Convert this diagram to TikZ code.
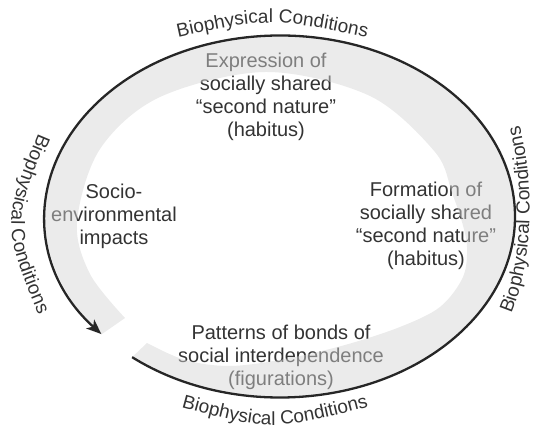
\documentclass[tikz,border=0pt]{standalone}
\usepackage{fontspec}
\setmainfont{Liberation Sans}
\usetikzlibrary{
  arrows.meta, % for the Stealth arrow tip
  decorations.text, % to bend the outer labels along the ring
}
\definecolor{inktext}{HTML}{333333}
\definecolor{inkline}{HTML}{262626}
\tikzset{
  phrase/.style={ % style for the four stages inside the ring
    align=center, % centred lines
    text=inktext,
    font=\fontsize{20}{23}\selectfont,
    inner sep=0pt,
  },
  ring/.style={ % style for the light grey band
    fill=black!17, % light grey
    fill opacity=0.47, % lets the stage texts show through it
  },
  flow/.style={ % style for the black cycle line
    draw=inkline,
    line width=2.3pt,
    -{Stealth[length=15pt,width=12pt,inset=4pt]},
  },
  arched/.style={ % style for the curved outer labels
    decorate,
    decoration={text along path, text align=center,
      text={|\fontsize{19}{19}\selectfont\color{inktext}|#1}},
  },
}

\begin{document}
\begin{tikzpicture}[x=1pt,y=1pt]
  \useasboundingbox (0,0) rectangle (534,427);
  \node[phrase] (expr) at (266,330.5) {Expression of\\socially shared\\“second nature”\\(habitus)};
  \node[phrase] (form) at (426,201) {Formation of\\socially shared\\“second nature”\\(habitus)};
  \node[phrase] (bonds) at (281,70) {Patterns of bonds of\\social interdependence\\(figurations)};
  \node[phrase] (impact) at (114,211) {Socio-\\environmental\\impacts};
  % centre of the ring
  \coordinate (o) at (280,210.5);
  % band: outer edge on the ring, inner edge drawn through points
  \fill[ring] ([shift={(231:235 and 181)}]o) arc[start angle=231, end angle=580.6, x radius=235, y radius=181]
    -- plot[smooth, tension=0.55] coordinates {(125,109) (90,153) (77,205) (100,278) (160,330)
      (266,355) (370,331) (435,275) (452,234) (462,205) (467,180) (463,150) (440,120)
      (400,100) (345,82) (285,68) (230,61) (185,67) (147,84)} -- cycle;
  \draw[flow] ([shift={(231:235 and 181)}]o) arc[start angle=231, end angle=580.5, x radius=235, y radius=181];
  % outer labels
  \path[arched=Biophysical Conditions] (165,387) .. controls (270,410) .. (380,387);
  \path[arched=Biophysical Conditions] (170,23) .. controls (272,-5) .. (380,23);
  \path[arched=Biophysical Conditions] (45,309) .. controls (0,203) .. (45,97);
  \path[arched=Biophysical Conditions] (505,100) .. controls (537,160) and (535,260) .. (515,315);
\end{tikzpicture}
\end{document}
